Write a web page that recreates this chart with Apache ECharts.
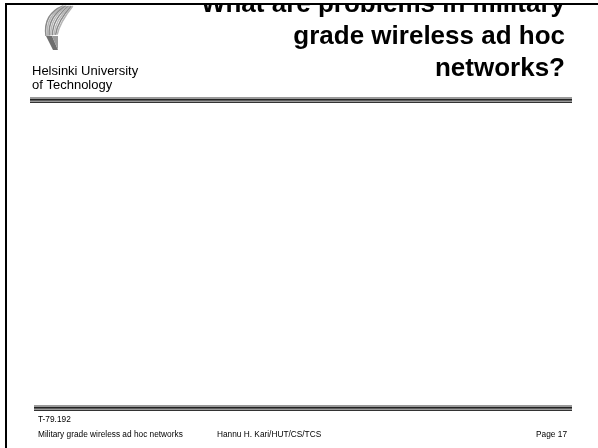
<!DOCTYPE html>
<html>
<head>
<meta charset="utf-8">
<script src="https://cdn.jsdelivr.net/npm/echarts@6/dist/echarts.min.js"></script>
<style>
html,body{margin:0;padding:0;background:#fff;}
#c{width:598px;height:448px;}
</style>
</head>
<body>
<div id="c"></div>
<script>
var titleLines = ['What are problems in military', 'grade wireless ad hoc', 'networks?'];
var orgLines = ['Helsinki University', 'of Technology'];
var courseCode = 'T-79.192';
var footerLeft = 'Military grade wireless ad hoc networks';
var footerMid = 'Hannu H. Kari/HUT/CS/TCS';
var footerRight = 'Page 17';

var FONT = '"Liberation Sans", Arial, sans-serif';
var chart = echarts.init(document.getElementById('c'), null, {renderer: 'canvas'});

var g = [];
// frame
g.push({type: 'rect', shape: {x: 5, y: 3, width: 593, height: 2}, style: {fill: '#000'}});
g.push({type: 'rect', shape: {x: 5, y: 3, width: 2, height: 445}, style: {fill: '#000'}});

// logo stripes
for (var i = 0; i < 8; i++) {
  g.push({type: 'bezierCurve', shape: {
      x1: 63 + i * 1.4, y1: 6,
      cpx1: 43 + i * 2.4, cpy1: 14 + i * 1.2,
      x2: 46 + i * 1.6, y2: 36 - i * 0.2
    }, style: {stroke: i % 2 ? '#b5b5b5' : '#8a8a8a', lineWidth: 1.5, fill: null}});
}
g.push({type: 'polygon', shape: {points: [[46, 36], [52, 36], [58, 50], [53, 50]]}, style: {fill: '#6e6e6e'}});
g.push({type: 'polygon', shape: {points: [[52, 36], [58, 36], [58, 50]]}, style: {fill: '#9a9a9a'}});

// org name
orgLines.forEach(function (t, k) {
  g.push({type: 'text', x: 32, y: 71 + k * 14, style: {text: t, font: '13px ' + FONT, fill: '#000', textVerticalAlign: 'middle'}});
});

// title
titleLines.forEach(function (t, k) {
  g.push({type: 'text', x: 565, y: 5 + k * 32, style: {text: t, font: 'bold 26px ' + FONT, fill: '#000', textAlign: 'right', textVerticalAlign: 'middle'}});
});
// white mask above frame and frame on top of title
g.push({type: 'rect', shape: {x: 0, y: 0, width: 598, height: 3}, style: {fill: '#fff'}, z: 10});
g.push({type: 'rect', shape: {x: 5, y: 3, width: 593, height: 2}, style: {fill: '#000'}, z: 10});

// double rules
function rule(x, y) {
  g.push({type: 'rect', shape: {x: x, y: y, width: 572 - x, height: 6}, style: {fill: '#9a9a9a'}});
  g.push({type: 'rect', shape: {x: x, y: y + 2, width: 572 - x, height: 1.5}, style: {fill: '#222'}});
  g.push({type: 'rect', shape: {x: x, y: y + 5, width: 572 - x, height: 1}, style: {fill: '#333'}});
}
rule(30, 97);
rule(34, 405);

// footer
g.push({type: 'text', x: 38, y: 420, style: {text: courseCode, font: '8.3px ' + FONT, fill: '#000', textVerticalAlign: 'middle'}});
g.push({type: 'text', x: 38, y: 435, style: {text: footerLeft, font: '8.3px ' + FONT, fill: '#000', textVerticalAlign: 'middle'}});
g.push({type: 'text', x: 217, y: 435, style: {text: footerMid, font: '8.3px ' + FONT, fill: '#000', textVerticalAlign: 'middle'}});
g.push({type: 'text', x: 567, y: 435, style: {text: footerRight, font: '8.3px ' + FONT, fill: '#000', textAlign: 'right', textVerticalAlign: 'middle'}});

chart.setOption({
  animation: false,
  backgroundColor: '#fff',
  graphic: {elements: g}
});
</script>
</body>
</html>
